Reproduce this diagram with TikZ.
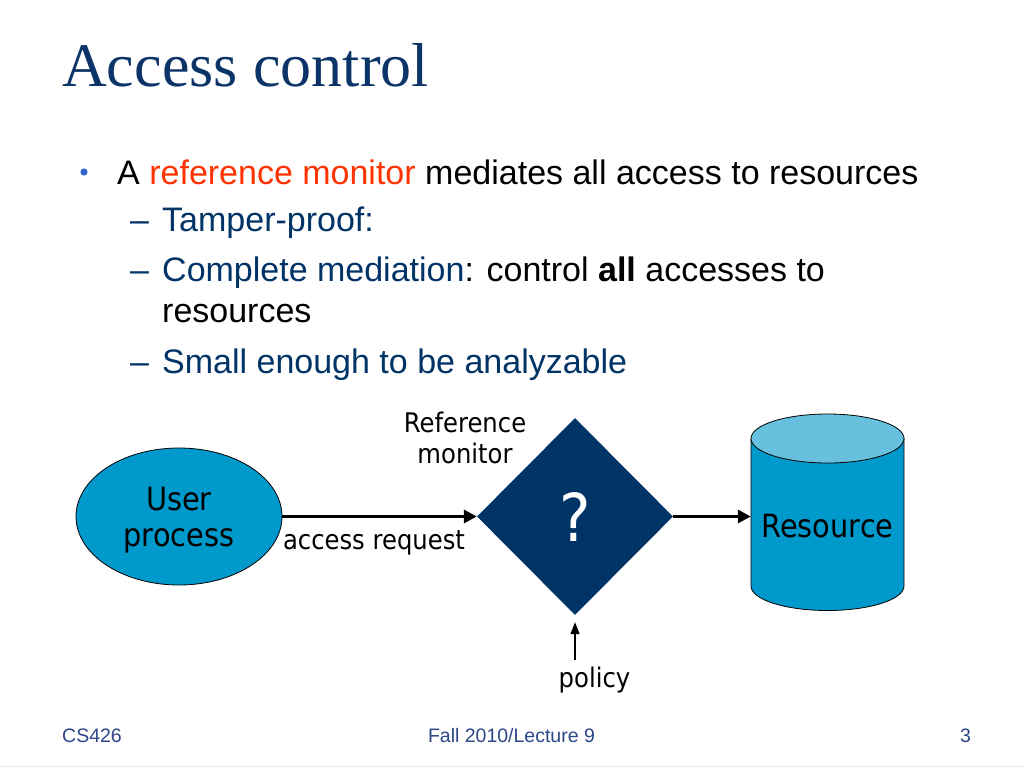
\documentclass[tikz,border=0pt]{standalone}
\usepackage{fontspec}
\setmainfont{Liberation Sans}
\newfontfamily\titlefont{Liberation Serif}
\newfontfamily\dfont[FakeStretch=0.9]{DejaVu Sans}
\usetikzlibrary{shapes.geometric,arrows.meta}
\definecolor{navy}{RGB}{0,51,102}
\definecolor{titleblue}{RGB}{12,52,104}
\definecolor{accent}{RGB}{255,51,0}
\definecolor{bulletblue}{RGB}{51,102,204}
\definecolor{footblue}{RGB}{45,70,135}
\definecolor{cylbody}{RGB}{0,153,204}
\definecolor{cyltop}{RGB}{102,192,222}
\definecolor{diamondfill}{RGB}{0,51,102}
\begin{document}
\begin{tikzpicture}[x=1pt,y=-1pt,
  txt/.style={inner sep=0pt, anchor=base west, font=\fontsize{34}{40}\selectfont},
  dtext/.style={inner sep=0pt, font=\dfont\fontsize{27}{31}\selectfont},
  foot/.style={inner sep=0pt, text=footblue, font=\fontsize{19.5}{23}\selectfont},
  thickarrow/.style={line width=3.5pt, -{Triangle[length=13pt,width=13pt]}},
  thinarrow/.style={line width=1.6pt, -{Triangle[length=12pt,width=9pt]}},
  outline/.style={draw=black, line width=0.8pt}]
\useasboundingbox (0,0) rectangle (1024,768);
\fill[white] (0,0) rectangle (1024,768);

% title
\node[inner sep=0pt, anchor=base west, text=titleblue,
      font=\titlefont\fontsize{62}{70}\selectfont] (title) at (62,86) {Access control};

% bullets
\fill[bulletblue] (84,172) circle[radius=3.6pt];
\node[txt] (l1) at (117,184) {A \textcolor{accent}{reference monitor} mediates all access to resources};
\node[txt, text=navy] (d2) at (130,231) {–};
\node[txt, text=navy] (l2) at (162,231) {Tamper-proof:};
\node[txt, text=navy] (d3) at (130,281) {–};
\node[txt] (l3) at (162,281) {\textcolor{navy}{Complete mediation}: control \textbf{all} accesses to};
\node[txt] (l4) at (162,322) {resources};
\node[txt, text=navy] (d5) at (130,373) {–};
\node[txt, text=navy] (l5) at (162,373) {Small enough to be analyzable};

% diagram
\node[ellipse, outline, fill=cylbody, minimum width=206pt, minimum height=137pt, inner sep=0pt] (up) at (179,516.5) {};
\node[dtext, align=center, font=\dfont\fontsize{32}{36}\selectfont] (uplabel) at (179,520.4) {User\\process};

\node[diamond, fill=diamondfill, minimum width=196pt, minimum height=197pt, inner sep=0pt,
      text=white, font=\dfont\fontsize{66}{70}\selectfont] (rm) at (575,516.5) {?};
\node[dtext, align=center, anchor=south] (rmlabel) at (465,464) {Reference\\monitor};

% cylinder
\path[outline, fill=cylbody] (751,438.5) -- (751,586)
  arc[start angle=180, end angle=360, x radius=76.5pt, y radius=24.5pt]
  -- (904,438.5) -- cycle;
\path[outline, fill=cyltop] (827.5,438.5) ellipse[x radius=76.5pt, y radius=24.5pt];
\node[inner sep=0pt, minimum width=153pt, minimum height=197pt] (res) at (827.5,512.5) {};
\node[dtext, anchor=base, font=\dfont\fontsize{32}{36}\selectfont] (reslabel) at (827.5,537) {Resource};

\node[dtext, anchor=base] (areq) at (374,549) {access request};
\node[dtext, anchor=base] (pol) at (594.5,687) {policy};

% connectors
\draw[thickarrow] (up.east) -- (rm.west);
\draw[thickarrow] (rm.east) -- (rm.east -| res.west);
\draw[thinarrow, shorten <=6pt, shorten >=7pt] (pol.north -| rm.south) -- (rm.south);

% footer
\node[foot, anchor=base west] (f1) at (62,742) {CS426};
\node[foot, anchor=base] (f2) at (511.5,742) {Fall 2010/Lecture 9};
\node[foot, anchor=base west] (f3) at (960,742) {3};
\draw[gray!18, line width=1pt] (0,766.5) -- (1024,766.5);
\end{tikzpicture}
\end{document}
